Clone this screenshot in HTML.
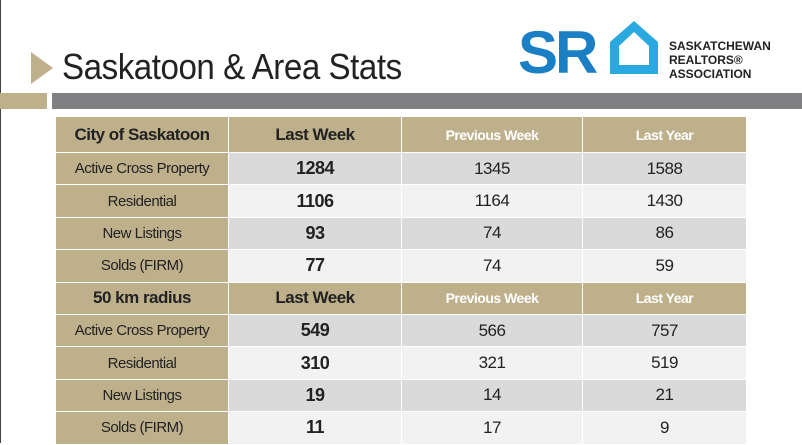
<!DOCTYPE html>
<html><head><meta charset="utf-8"><style>
body{margin:0;width:802px;height:443px;overflow:hidden;background:#fff;font-family:"Liberation Sans",sans-serif;position:relative}
.abs{position:absolute}
table{position:absolute;left:55px;top:116px;border-collapse:collapse;width:691px;table-layout:fixed}
td{border:1.5px solid #fff;text-align:center;padding:0;height:31px;font-size:17px;color:#222;letter-spacing:-0.5px;box-sizing:border-box}
tr{height:32.4px}
tr.h td{background:#bfb08c;font-weight:bold;font-size:17px}
tr.h td.w{color:#fff;font-size:14px}
tr.h1{height:36px}
td.l{background:#bfb08c;font-size:15px}
tr.g td{background:#dadada}tr.p td{background:#f2f2f2}
tr.g td.l,tr.p td.l{background:#bfb08c}
td.b{font-weight:bold;font-size:18px}
</style></head><body>
<div class="abs" style="left:0;top:0;width:1px;height:443px;background:#444"></div>
<div class="abs" style="left:31px;top:52px;width:0;height:0;border-top:16px solid transparent;border-bottom:16px solid transparent;border-left:22px solid #bfb08c"></div>
<div class="abs" style="left:62px;top:46px;font-size:36px;color:#222;letter-spacing:-0.5px;transform:scaleX(0.92);transform-origin:left">Saskatoon &amp; Area Stats</div>
<div class="abs" style="left:0;top:93px;width:47px;height:16px;background:#bfb08c"></div>
<div class="abs" style="left:52px;top:93px;width:750px;height:16px;background:#808082"></div>
<div class="abs" style="left:518px;top:18px;font-size:60px;font-weight:bold;color:#1a7fc4;letter-spacing:-3px">SR</div>
<svg class="abs" style="left:606px;top:18px" width="56" height="60"><path d="M4 24 L28 3 L52 24 L52 56 L4 56 Z M13 28 L13 47 L43 47 L43 28 L28 14 Z" fill="#29a9e0" fill-rule="evenodd"/></svg>
<div class="abs" style="left:669px;top:39px;font-size:12px;font-weight:bold;line-height:14px;color:#222">SASKATCHEWAN<br>REALTORS®<br>ASSOCIATION</div>
<table>
<colgroup><col style="width:173px"><col style="width:173px"><col style="width:181px"><col style="width:164px"></colgroup>
<tr class="h h1"><td>City of Saskatoon</td><td>Last Week</td><td class="w">Previous Week</td><td class="w">Last Year</td></tr>
<tr class="g"><td class="l">Active Cross Property</td><td class="b">1284</td><td>1345</td><td>1588</td></tr>
<tr class="p"><td class="l">Residential</td><td class="b">1106</td><td>1164</td><td>1430</td></tr>
<tr class="g"><td class="l">New Listings</td><td class="b">93</td><td>74</td><td>86</td></tr>
<tr class="p"><td class="l">Solds (FIRM)</td><td class="b">77</td><td>74</td><td>59</td></tr>
<tr class="h"><td>50 km radius</td><td>Last Week</td><td class="w">Previous Week</td><td class="w">Last Year</td></tr>
<tr class="g"><td class="l">Active Cross Property</td><td class="b">549</td><td>566</td><td>757</td></tr>
<tr class="p"><td class="l">Residential</td><td class="b">310</td><td>321</td><td>519</td></tr>
<tr class="g"><td class="l">New Listings</td><td class="b">19</td><td>14</td><td>21</td></tr>
<tr class="p"><td class="l">Solds (FIRM)</td><td class="b">11</td><td>17</td><td>9</td></tr>
</table>
</body></html>
